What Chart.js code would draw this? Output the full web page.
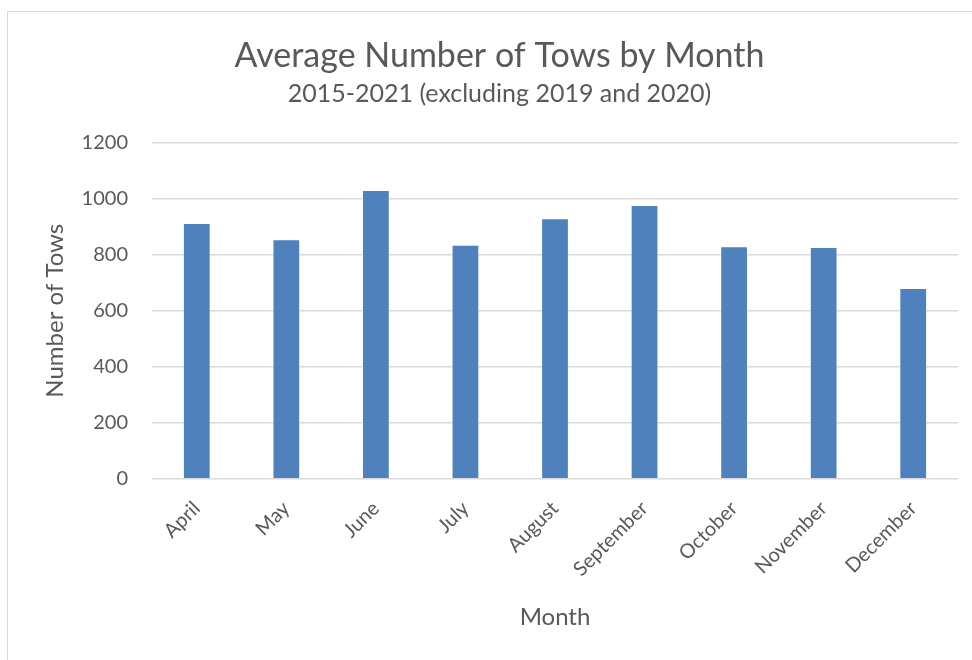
<!DOCTYPE html>
<html>
<head>
<meta charset="utf-8">
<script src="https://cdn.jsdelivr.net/npm/chart.js@4/dist/chart.umd.min.js"></script>
<style>
  body { margin: 0; background: #fff; }
  #frame {
    position: absolute; left: 7px; top: 11px; width: 970px; height: 660px;
    border: 1.5px solid #d9d9d9; box-sizing: border-box;
  }
  #wrap { position: absolute; left: 0; top: 0; width: 972px; height: 660px; }
</style>
</head>
<body>
<div id="frame"></div>
<div id="wrap"><canvas id="towChart" width="972" height="660"></canvas></div>
<script>
/* ======================================================
   DADOS
====================================================== */
const meses = ["April", "May", "June", "July", "August", "September", "October", "November", "December"];
const mediaTows = [913, 855, 1031, 836, 930, 978, 830, 828, 681];
const yMin = 0;
const yMax = 1200;
const yStep = 200;

/* ======================================================
   CORES
====================================================== */
const CORES = {
  barra: "#4f81bd",
  texto: "#595959",
  grade: "#d9d9d9"
};

const FONTE = "Lato, 'Open Sans', sans-serif";

/* ======================================================
   GRAFICO
====================================================== */
new Chart(document.getElementById("towChart"), {
  type: "bar",
  data: {
    labels: meses,
    datasets: [{
      data: mediaTows,
      backgroundColor: CORES.barra,
      borderColor: "rgba(255,255,255,0.45)",
      borderWidth: 1,
      barPercentage: 0.31,
      categoryPercentage: 1
    }]
  },
  options: {
    responsive: false,
    animation: false,
    layout: { padding: { left: 41, right: 14, top: 36, bottom: 28 } },
    plugins: {
      legend: { display: false },
      tooltip: { enabled: false },
      title: {
        display: true,
        text: "Average Number of Tows by Month",
        color: CORES.texto,
        font: { family: FONTE, size: 34, weight: "normal" },
        padding: { top: 0, bottom: 2 }
      },
      subtitle: {
        display: true,
        text: "2015-2021 (excluding 2019 and 2020)",
        color: CORES.texto,
        font: { family: FONTE, size: 25, weight: "normal" },
        padding: { top: 0, bottom: 34 }
      }
    },
    scales: {
      x: {
        grid: { display: false },
        border: { display: false },
        ticks: {
          color: CORES.texto,
          font: { family: FONTE, size: 20 },
          minRotation: 45,
          maxRotation: 45,
          padding: 10
        },
        title: {
          display: true,
          text: "Month",
          color: CORES.texto,
          font: { family: FONTE, size: 24 },
          padding: { top: 12, bottom: 0 }
        }
      },
      y: {
        min: yMin,
        max: yMax,
        afterFit: s => { s.width = 111; },
        grid: { color: CORES.grade, lineWidth: 1.5, drawTicks: false },
        border: { display: false },
        ticks: {
          stepSize: yStep,
          color: CORES.texto,
          font: { family: FONTE, size: 20 },
          padding: 24,
          callback: v => String(v)
        },
        title: {
          display: true,
          text: "Number of Tows",
          color: CORES.texto,
          font: { family: FONTE, size: 24 },
          padding: { top: 0, bottom: 10 }
        }
      }
    }
  }
});
</script>
</body>
</html>
